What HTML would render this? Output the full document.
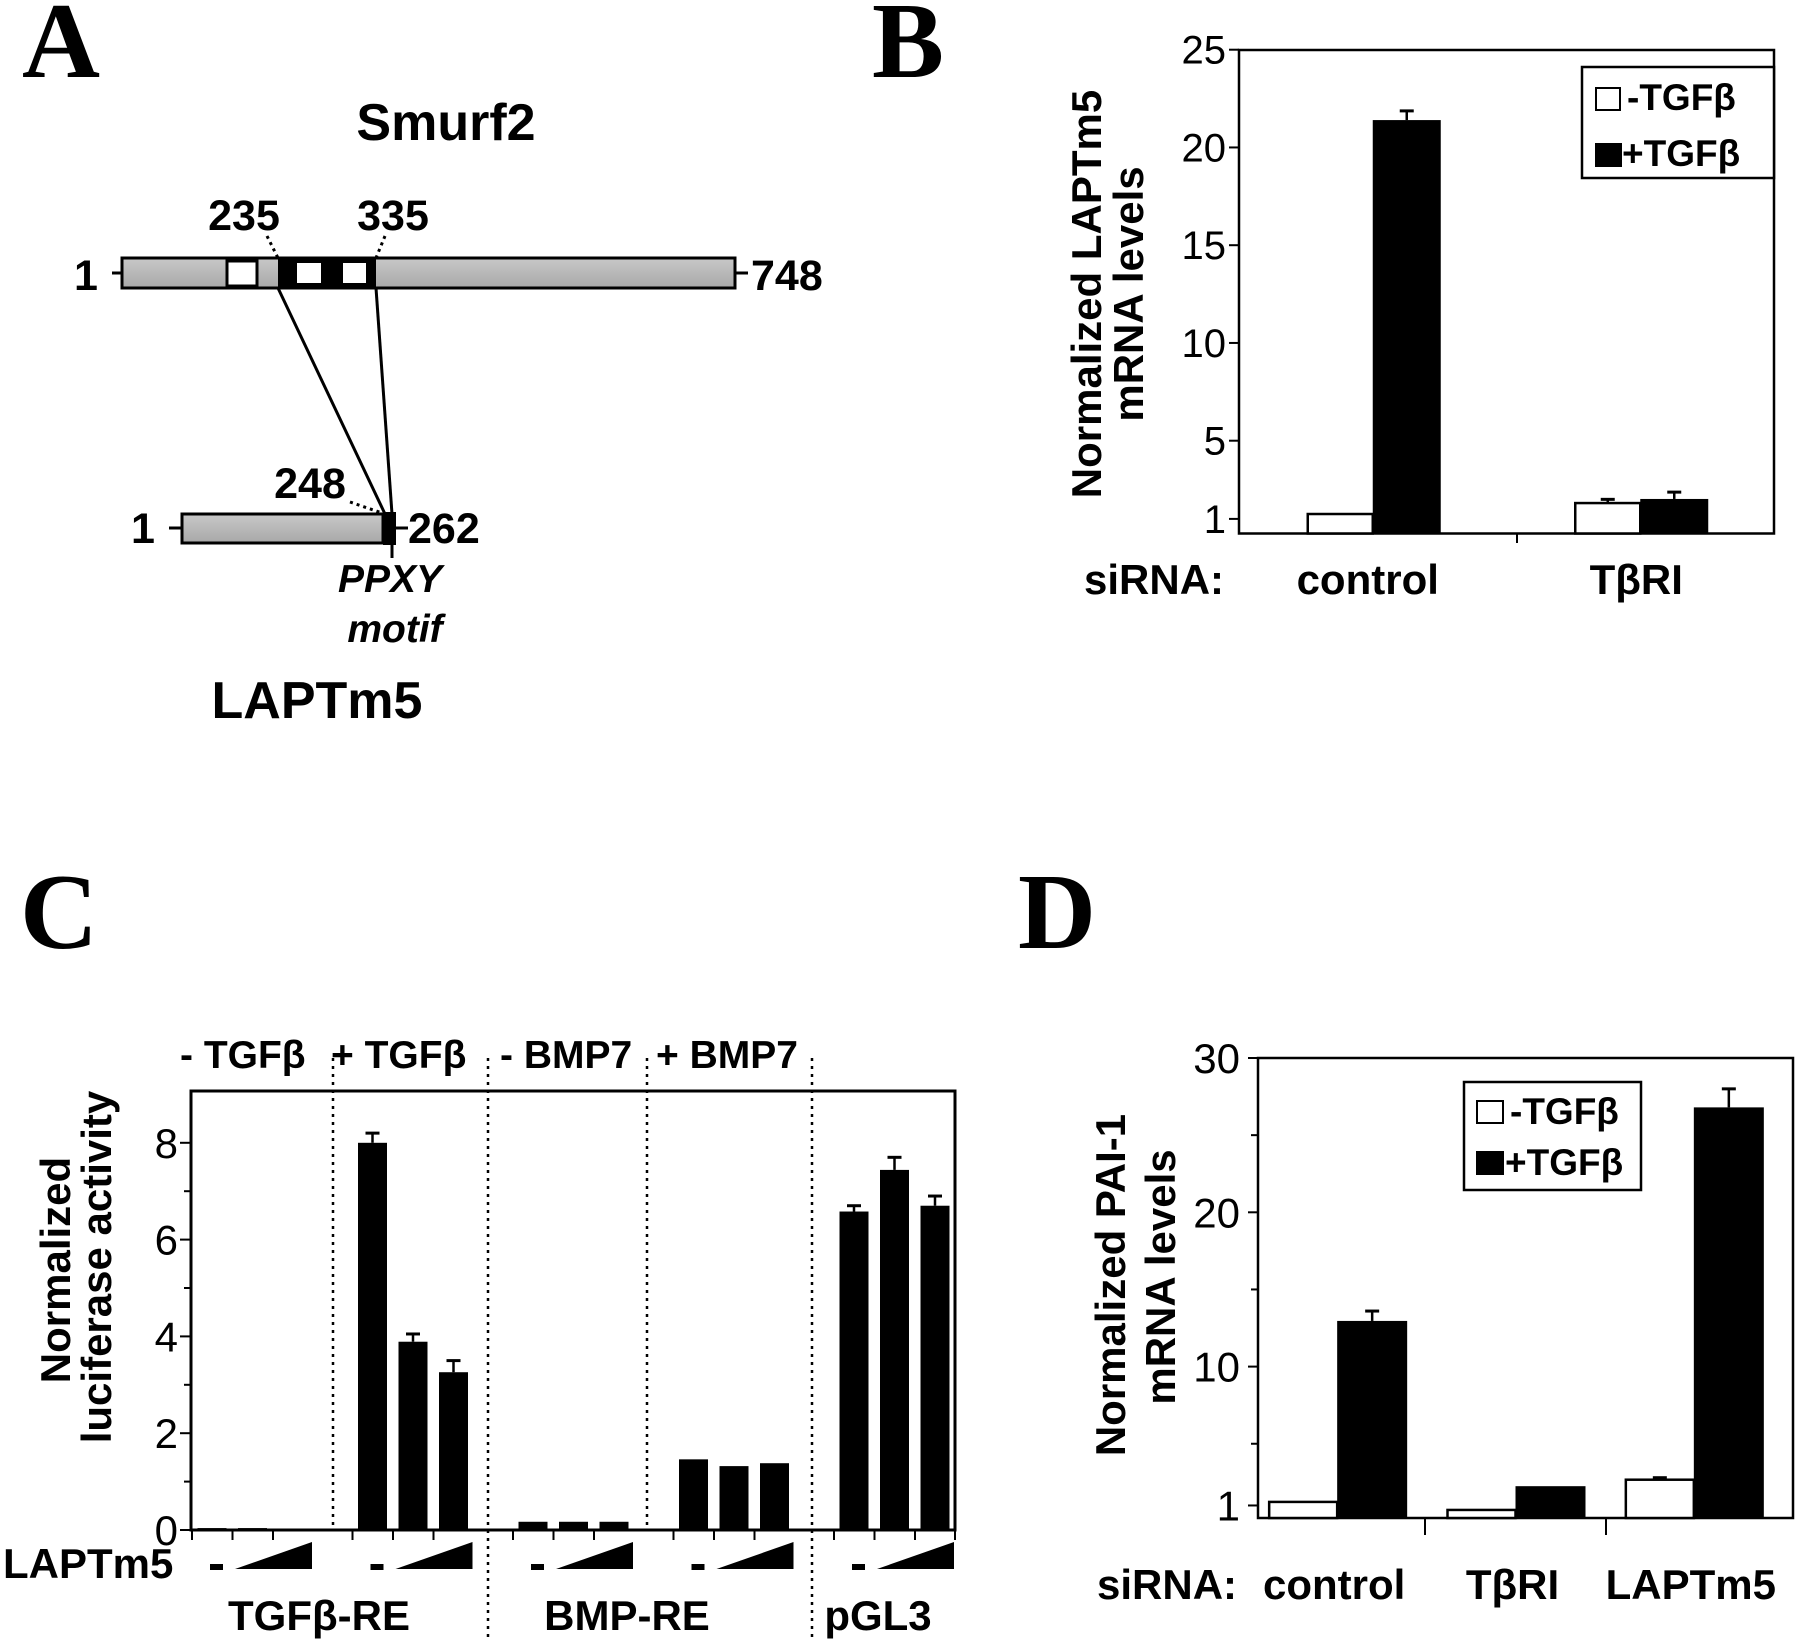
<!DOCTYPE html>
<html><head><meta charset="utf-8"><style>
html,body{margin:0;padding:0;background:#fff}
svg{display:block}
text{font-family:"Liberation Sans",Arial,sans-serif;fill:#000}
.b{font-weight:bold}
.serif{font-family:"Liberation Serif","Times New Roman",serif;font-weight:bold}
</style></head><body>
<svg id="fig" xmlns="http://www.w3.org/2000/svg" width="1800" height="1640" viewBox="0 0 1800 1640">
<rect x="0" y="0" width="1800" height="1640" fill="#fff"/>
<defs><linearGradient id="gr" x1="0" y1="0" x2="0" y2="1"><stop offset="0" stop-color="#c8c8c8"/><stop offset="1" stop-color="#a8a8a8"/></linearGradient></defs>

<text class="serif" x="22" y="77" font-size="108">A</text>
<text class="serif" x="872" y="77" font-size="108">B</text>
<text class="serif" x="20" y="948" font-size="108">C</text>
<text class="serif" x="1018" y="948" font-size="108">D</text>

<g>
<text class="b" x="446" y="140" font-size="52" text-anchor="middle">Smurf2</text>
<rect x="122" y="258" width="613" height="30" fill="url(#gr)" stroke="#000" stroke-width="3"/>
<rect x="227" y="261" width="30" height="25" fill="#fff" stroke="#000" stroke-width="3"/>
<rect x="278" y="258" width="98" height="30" fill="#000"/>
<rect x="297" y="263" width="24" height="20" fill="#fff"/>
<rect x="343" y="263" width="23" height="20" fill="#fff"/>
<line x1="112" y1="273" x2="122" y2="273" stroke="#000" stroke-width="3"/>
<line x1="735" y1="273" x2="748" y2="273" stroke="#000" stroke-width="3"/>
<text class="b" x="86" y="290" font-size="43" text-anchor="middle">1</text>
<text class="b" x="751" y="290" font-size="43">748</text>
<text class="b" x="244" y="230" font-size="43" text-anchor="middle">235</text>
<text class="b" x="393" y="230" font-size="43" text-anchor="middle">335</text>
<line x1="267" y1="236" x2="278" y2="258" stroke="#000" stroke-width="3" stroke-dasharray="3,4"/>
<line x1="385" y1="236" x2="376" y2="258" stroke="#000" stroke-width="3" stroke-dasharray="3,4"/>
<line x1="278" y1="288" x2="385" y2="514" stroke="#000" stroke-width="3"/>
<line x1="376" y1="288" x2="392" y2="514" stroke="#000" stroke-width="3"/>
<rect x="182" y="514" width="201" height="29" fill="url(#gr)" stroke="#000" stroke-width="3"/>
<rect x="383" y="512" width="13" height="33" fill="#000"/>
<line x1="392" y1="543" x2="392" y2="558" stroke="#000" stroke-width="3"/>
<line x1="169" y1="528" x2="182" y2="528" stroke="#000" stroke-width="3"/>
<line x1="396" y1="528" x2="408" y2="528" stroke="#000" stroke-width="3"/>
<text class="b" x="143" y="543" font-size="43" text-anchor="middle">1</text>
<text class="b" x="408" y="543" font-size="43">262</text>
<text class="b" x="310" y="498" font-size="43" text-anchor="middle">248</text>
<line x1="350" y1="502" x2="382" y2="513" stroke="#000" stroke-width="3" stroke-dasharray="3,4"/>
<text class="b" x="390" y="592" font-size="39" text-anchor="middle" font-style="italic">PPXY</text>
<text class="b" x="395" y="642" font-size="39" text-anchor="middle" font-style="italic">motif</text>
<text class="b" x="317" y="718" font-size="52" text-anchor="middle">LAPTm5</text>
</g>

<g>
<rect x="1239" y="50" width="535" height="483.5" fill="none" stroke="#000" stroke-width="2.5"/>
<text class="b" x="1101" y="294" font-size="42" text-anchor="middle" transform="rotate(-90 1101 294)">Normalized LAPTm5</text>
<text class="b" x="1143" y="294" font-size="42" text-anchor="middle" transform="rotate(-90 1143 294)">mRNA levels</text>
<text class="b" x="1084" y="594" font-size="42">siRNA:</text>
<line x1="1517" y1="533" x2="1517" y2="543" stroke="#000" stroke-width="2"/>
<g>
<rect x="1582" y="67" width="192" height="111" fill="#fff" stroke="#000" stroke-width="2.5"/>
<rect x="1596" y="88" width="24" height="22" fill="#fff" stroke="#000" stroke-width="2"/>
<text class="b" x="1627" y="110" font-size="37">-TGFβ</text>
<rect x="1595" y="143" width="27" height="24" fill="#000"/>
<text class="b" x="1622" y="166" font-size="37">+TGFβ</text>
</g>
</g>

<g>
<rect x="191" y="1091" width="764" height="439" fill="none" stroke="#000" stroke-width="3"/>
<text class="b" x="70" y="1270" font-size="42" text-anchor="middle" transform="rotate(-90 70 1270)">Normalized</text>
<text class="b" x="111" y="1267" font-size="42" text-anchor="middle" transform="rotate(-90 111 1267)">luciferase activity</text>
<text class="b" x="180" y="1068" font-size="39">- TGFβ</text>
<text class="b" x="331" y="1068" font-size="39">+ TGFβ</text>
<text class="b" x="500" y="1068" font-size="39">- BMP7</text>
<text class="b" x="656" y="1068" font-size="39">+ BMP7</text>
<line x1="333" y1="1058" x2="333" y2="1530" stroke="#000" stroke-width="2.5" stroke-dasharray="3,5"/>
<line x1="488" y1="1058" x2="488" y2="1640" stroke="#000" stroke-width="2.5" stroke-dasharray="3,5"/>
<line x1="647" y1="1058" x2="647" y2="1530" stroke="#000" stroke-width="2.5" stroke-dasharray="3,5"/>
<line x1="812" y1="1058" x2="812" y2="1640" stroke="#000" stroke-width="2.5" stroke-dasharray="3,5"/>
<text class="b" x="3" y="1578" font-size="42">LAPTm5</text>
<text class="b" x="319" y="1630" font-size="42" text-anchor="middle">TGFβ-RE</text>
<text class="b" x="627" y="1630" font-size="42" text-anchor="middle">BMP-RE</text>
<text class="b" x="878" y="1630" font-size="42" text-anchor="middle">pGL3</text>
</g>

<g>
<rect x="1258" y="1058" width="535" height="460" fill="none" stroke="#000" stroke-width="2.5"/>
<text class="b" x="1125" y="1285" font-size="42" text-anchor="middle" transform="rotate(-90 1125 1285)">Normalized PAI-1</text>
<text class="b" x="1175" y="1277" font-size="42" text-anchor="middle" transform="rotate(-90 1175 1277)">mRNA levels</text>
<text class="b" x="1097" y="1599" font-size="42">siRNA:</text>
<line x1="1425" y1="1518" x2="1425" y2="1535" stroke="#000" stroke-width="2"/>
<line x1="1606" y1="1518" x2="1606" y2="1535" stroke="#000" stroke-width="2"/>
<g>
<rect x="1464" y="1082" width="177" height="108" fill="#fff" stroke="#000" stroke-width="2.5"/>
<rect x="1477" y="1101" width="26" height="22" fill="#fff" stroke="#000" stroke-width="2"/>
<text class="b" x="1510" y="1124" font-size="37">-TGFβ</text>
<rect x="1476" y="1151" width="28" height="24" fill="#000"/>
<text class="b" x="1505" y="1175" font-size="37">+TGFβ</text>
</g>
</g>
</svg>
<script>
const bCategories = ['control', 'TβRI'];
const bMinus = [1.25, 1.81];
const bPlus = [21.4, 2.02];
const bMinusErr = [1.3, 2.0];
const bPlusErr = [21.87, 2.37];
const bTicks = [1, 5, 10, 15, 20, 25];
const cGroups = ['-TGFb', '+TGFb', '-BMP7', '+BMP7', 'pGL3'];
const cDoses = ['none', 'low', 'high'];
const cValues = [[0.04, 0.04, 0.02], [8.0, 3.89, 3.26], [0.17, 0.17, 0.17], [1.46, 1.32, 1.38], [6.58, 7.44, 6.7]];
const cErr = [[0.04, 0.04, 0.02], [8.2, 4.05, 3.5], [0.17, 0.17, 0.17], [1.47, 1.34, 1.4], [6.7, 7.7, 6.9]];
const cTicks = [0, 2, 4, 6, 8];
const cMinor = [1, 3, 5, 7];
const dCategories = ['control', 'TβRI', 'LAPTm5'];
const dMinus = [1.23, 0.71, 2.67];
const dPlus = [12.96, 2.25, 26.8];
const dMinusErr = [1.3, 0.75, 2.8];
const dPlusErr = [13.6, 2.35, 28.0];
const dTicks = [1, 10, 20, 30];
const dMinor = [5, 15, 25];

const NS = 'http://www.w3.org/2000/svg';
const svg = document.getElementById('fig');
function mk(tag, attrs) { const e = document.createElementNS(NS, tag); for (const k in attrs) e.setAttribute(k, attrs[k]); svg.appendChild(e); return e; }
function errBar(x, y1, y2) {
  if (y1 - y2 < 2) return;
  const l = mk('line', {x1: x, y1: y1, x2: x, y2: y2, stroke: '#000', 'stroke-width': 2.5});
  
  
  const c = mk('line', {x1: x - 7, y1: y2, x2: x + 7, y2: y2, stroke: '#000', 'stroke-width': 3});
  
  
}

const bY = v => 49.7 + (25 - v) * 19.55;
const bBottom = 533.5, bLeft = 1239, bBand = 535 / bCategories.length;
bTicks.forEach(v => {
  const tk = mk('line', {x1: bLeft - 10, y1: bY(v), x2: bLeft, y2: bY(v), stroke: '#000', 'stroke-width': 2});
  
  
  const t = mk('text', {x: 1226, y: bY(v) + 14, 'font-size': 40, 'text-anchor': 'end'});
  t.textContent = v;
  
  
});
bCategories.forEach((c, i) => {
  const cx = bLeft + bBand * (i + 0.5);
  const w = mk('rect', {x: cx - 65, y: bY(bMinus[i]), width: 65, height: bBottom - bY(bMinus[i]), fill: '#fff', stroke: '#000', 'stroke-width': 2.5});
  
  
  errBar(cx - 32.5, bY(bMinus[i]), bY(bMinusErr[i]));
  const k = mk('rect', {x: cx, y: bY(bPlus[i]), width: 68, height: bBottom - bY(bPlus[i]), fill: '#000'});
  
  
  errBar(cx + 34, bY(bPlus[i]), bY(bPlusErr[i]));
  const t = mk('text', {x: cx - 4 + (i ? 0 : -1), y: 594, 'font-size': 42, 'font-weight': 'bold', 'text-anchor': 'middle'});
  t.textContent = c;
  
  
});

const cY = v => 1530 - v * 48.4;
const cX = (g, i) => 212 + g * 160.5 + i * 40.5;
cTicks.forEach(v => {
  const tk = mk('line', {x1: 180, y1: cY(v), x2: 191, y2: cY(v), stroke: '#000', 'stroke-width': 2});
  
  
  const t = mk('text', {x: 178, y: cY(v) + 15, 'font-size': 42, 'text-anchor': 'end'});
  t.textContent = v;
  
  
});
cMinor.forEach(v => {
  const tk = mk('line', {x1: 184, y1: cY(v), x2: 191, y2: cY(v), stroke: '#000', 'stroke-width': 2});
  
  
});
cGroups.forEach((g, gi) => {
  cDoses.forEach((d, i) => {
    const cx = cX(gi, i);
    const v = cValues[gi][i];
    const r = mk('rect', {x: cx - 14.5, y: cY(v), width: 29, height: Math.max(1, 1530 - cY(v)), fill: '#000'});
    
    
    errBar(cx, cY(v), cY(cErr[gi][i]));
    const tk = mk('line', {x1: cx - 20, y1: 1530, x2: cx - 20, y2: 1540, stroke: '#000', 'stroke-width': 2});
    
    
  });
  const base = 210 + gi * 160.5;
  const dash = mk('rect', {x: base, y: 1564, width: 13, height: 6, fill: '#000'});
  
  
  const tri = mk('polygon', {points: (base + 25) + ',1569 ' + (base + 102) + ',1542 ' + (base + 102) + ',1569', fill: '#000'});
  
  
});
const lastTick = mk('line', {x1: 955, y1: 1530, x2: 955, y2: 1540, stroke: '#000', 'stroke-width': 2});



const dY = v => 1058 + (30 - v) * 15.43;
const dBottom = 1518, dLeft = 1258, dBand = 535 / dCategories.length;
dTicks.forEach(v => {
  const tk = mk('line', {x1: dLeft - 10, y1: dY(v), x2: dLeft, y2: dY(v), stroke: '#000', 'stroke-width': 2});
  
  
  const t = mk('text', {x: 1240, y: dY(v) + 15, 'font-size': 42, 'text-anchor': 'end'});
  t.textContent = v;
  
  
});
dMinor.forEach(v => {
  const tk = mk('line', {x1: dLeft - 7, y1: dY(v), x2: dLeft, y2: dY(v), stroke: '#000', 'stroke-width': 2});
  
  
});
dCategories.forEach((c, i) => {
  const cx = dLeft + dBand * (i + 0.5) - 10;
  const w = mk('rect', {x: cx - 68, y: dY(dMinus[i]), width: 68, height: dBottom - dY(dMinus[i]), fill: '#fff', stroke: '#000', 'stroke-width': 2.5});
  
  
  errBar(cx - 34, dY(dMinus[i]), dY(dMinusErr[i]));
  const k = mk('rect', {x: cx, y: dY(dPlus[i]), width: 70, height: dBottom - dY(dPlus[i]), fill: '#000'});
  
  
  errBar(cx + 35, dY(dPlus[i]), dY(dPlusErr[i]));
  const t = mk('text', {x: cx - 3, y: 1599, 'font-size': 42, 'font-weight': 'bold', 'text-anchor': 'middle'});
  t.textContent = c;
  
  
});
</script>
</body></html>
